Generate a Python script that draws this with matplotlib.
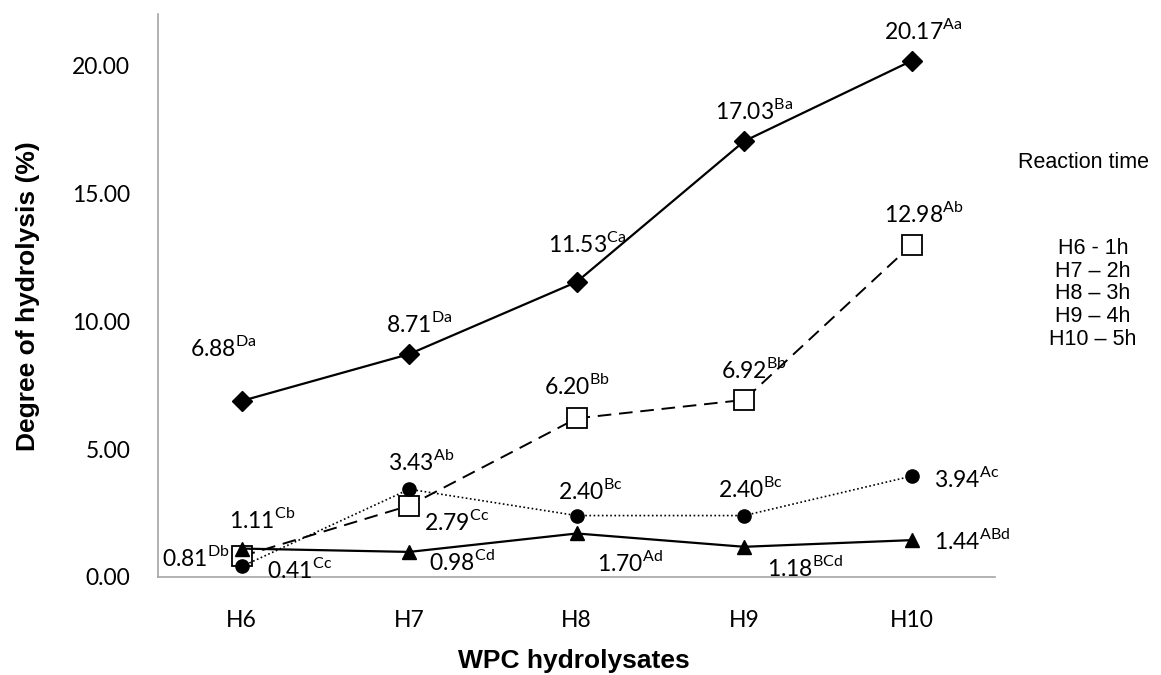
import matplotlib.pyplot as plt

plt.rcParams['font.family'] = ['Lato', 'DejaVu Sans']
plt.rcParams['mathtext.fontset'] = 'custom'
plt.rcParams['mathtext.rm'] = 'Lato'

# data
samples = ["H6", "H7", "H8", "H9", "H10"]
dh_diamond = [6.88, 8.71, 11.53, 17.03, 20.17]
dh_square = [0.81, 2.79, 6.20, 6.92, 12.98]
dh_circle = [0.41, 3.43, 2.40, 2.40, 3.94]
dh_triangle = [1.11, 0.98, 1.70, 1.18, 1.44]
sup_diamond = ["Da", "Da", "Ca", "Ba", "Aa"]
sup_square = ["Db", "Cc", "Bb", "Bb", "Ab"]
sup_circle = ["Cc", "Ab", "Bc", "Bc", "Ac"]
sup_triangle = ["Cb", "Cd", "Ad", "BCd", "ABd"]
legend_lines = ["H6 - 1h", "H7 \u2013 2h", "H8 \u2013 3h", "H9 \u2013 4h", "H10 \u2013 5h"]

x = list(range(len(samples)))

fig = plt.figure(figsize=(11.61, 6.75), dpi=100)
ax = fig.add_axes([0.1361, 0.1452, 0.7213, 0.8341])

ax.plot(x, dh_diamond, color='black', lw=1.6, marker='D', ms=10.5, zorder=3)
ax.plot(x, dh_square, color='black', lw=1.4, ls=(0, (7, 4)), marker='s', ms=14,
        mfc='white', mec='black', mew=1.3, zorder=2)
ax.plot(x, dh_triangle, color='black', lw=1.6, marker='^', ms=10.5, zorder=4)
ax.plot(x, dh_circle, color='black', lw=1.2, ls=(0, (1, 1.5)), marker='o', ms=9.5, zorder=5)

ax.set_xlim(-0.5, 4.5)
ax.set_ylim(0, 22)
ax.set_yticks([0, 5, 10, 15, 20])
ax.set_yticklabels(["%.2f" % v for v in [0, 5, 10, 15, 20]], fontsize=16.5)
ax.set_xticks(x)
ax.set_xticklabels(samples, fontsize=16.5)
ax.tick_params(axis='both', length=0)
ax.tick_params(axis='y', pad=20)
ax.tick_params(axis='x', pad=24)
for s in ['top', 'right']:
    ax.spines[s].set_visible(False)
for s in ['left', 'bottom']:
    ax.spines[s].set_color('#a6a6a6')
    ax.spines[s].set_linewidth(1.2)


def lab(xi, yi, val, sup, dx, dy, ha='center'):
    ax.annotate("%.2f$^{\\mathrm{%s}}$" % (val, sup), (xi, yi), xytext=(dx, dy),
                textcoords='offset pixels', ha=ha, va='center', fontsize=16.5, zorder=6)


# diamond labels
offs_d = [(-18, 53), (10, 31), (10, 38), (10, 31), (12, 30)]
for i in x:
    lab(i, dh_diamond[i], dh_diamond[i], sup_diamond[i], *offs_d[i])
# square labels
offs_s = [(-80, -1, 'left'), (15, -16, 'left'), (0, 33, 'center'), (10, 30, 'center'), (12, 31, 'center')]
for i in x:
    dx, dy, ha = offs_s[i]
    lab(i, dh_square[i], dh_square[i], sup_square[i], dx, dy, ha)
# circle labels
offs_c = [(25, -3, 'left'), (-21, 28, 'left'), (-19, 25, 'left'), (-26, 27, 'left'), (22, -2, 'left')]
for i in x:
    dx, dy, ha = offs_c[i]
    lab(i, dh_circle[i], dh_circle[i], sup_circle[i], dx, dy, ha)
# triangle labels
offs_t = [(-13, 29, 'left'), (20, -10, 'left'), (20, -29, 'left'), (23, -21, 'left'), (22, 0, 'left')]
for i in x:
    dx, dy, ha = offs_t[i]
    lab(i, dh_triangle[i], dh_triangle[i], sup_triangle[i], dx, dy, ha)

fig.text(574 / 1161, 1 - 661 / 675, "WPC hydrolysates", ha='center', va='center',
         fontsize=19, fontweight='bold', family='Liberation Sans')
fig.text(28 / 1161, 1 - 296 / 675, "Degree of hydrolysis (%)", ha='center', va='center',
         rotation=90, fontsize=19, fontweight='bold', family='Liberation Sans')

fig.text(1083 / 1161, 1 - 163 / 675, "Reaction time", ha='center', va='center',
         fontsize=15.5, family='Liberation Sans')
fig.text(1093 / 1161, 1 - 294 / 675, "\n".join(legend_lines), ha='center', va='center',
         fontsize=15.5, family='Liberation Sans', linespacing=1.12)

fig.savefig("out.png", dpi=100)
